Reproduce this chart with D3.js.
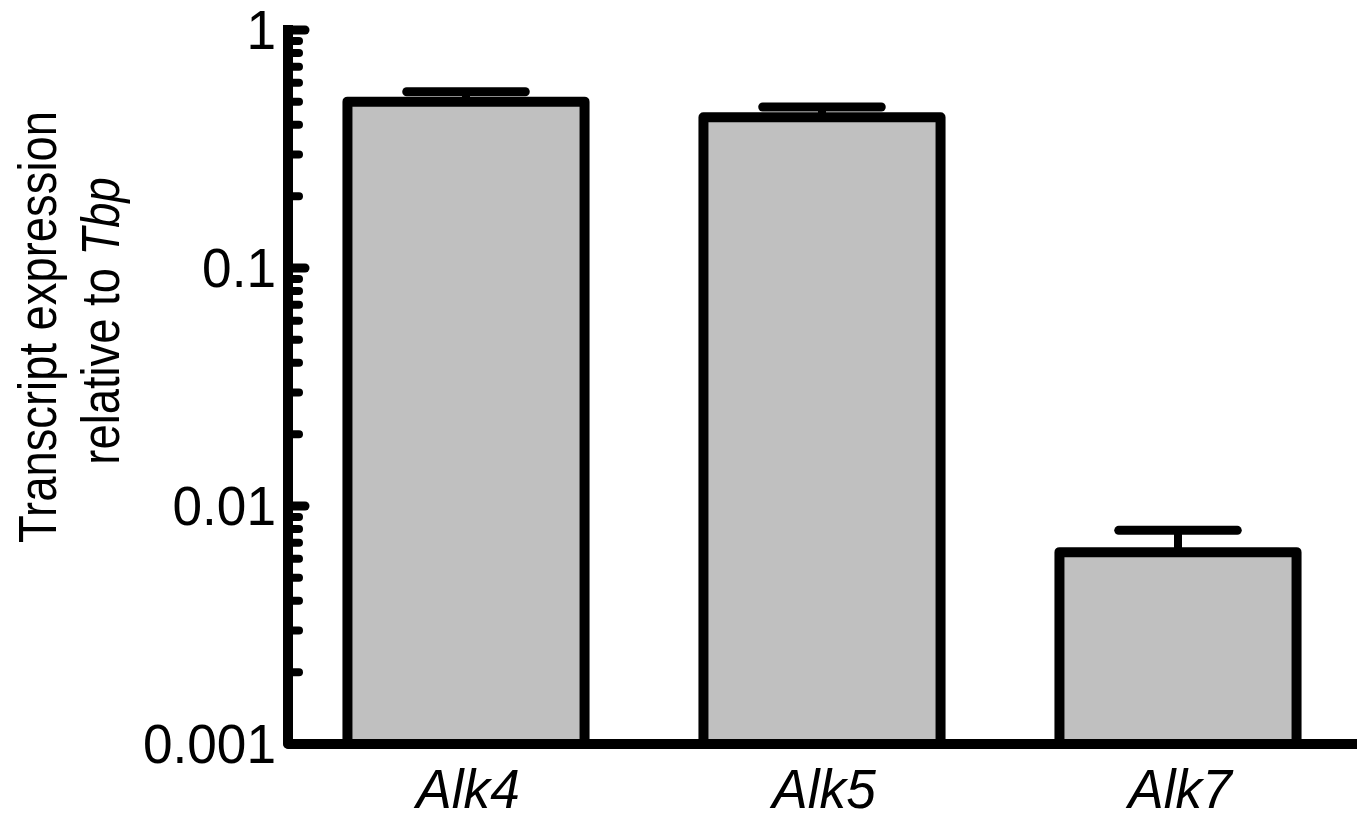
<!DOCTYPE html>
<html>
<head>
<meta charset="utf-8">
<script src="https://cdn.jsdelivr.net/npm/d3@7"></script>
<style>
  html, body { margin: 0; padding: 0; background: #fff; }
  svg { display: block; }
  text { font-family: "Liberation Sans", Arial, Helvetica, sans-serif; fill: #000; }
</style>
</head>
<body>
<svg id="chart" width="1368" height="819"></svg>
<script>
// ---- data ----
const categories = ["Alk4", "Alk5", "Alk7"];
const meanValues = [0.50, 0.43, 0.0064];
const upperErrorValues = [0.55, 0.475, 0.0079];
const yTickValues = [0.001, 0.01, 0.1, 1];
const yTickLabels = ["0.001", "0.01", "0.1", "1"];

// ---- layout ----
const W = 1368, H = 819;
const axisX = 288, axisY = 744, topY = 30, rightX = 1356;

const svg = d3.select("#chart");
svg.append("rect").attr("width", W).attr("height", H).attr("fill", "#fff");

const x = d3.scaleBand().domain(categories).range([axisX, rightX])
  .paddingInner(0.334).paddingOuter(0.167);
const y = d3.scaleLog().domain([0.001, 1]).range([axisY, topY]);

const data = categories.map((c, i) => ({ c, v: meanValues[i], e: upperErrorValues[i] }));

// bars
svg.append("g").selectAll("rect").data(data).join("rect")
  .attr("x", d => x(d.c))
  .attr("y", d => y(d.v))
  .attr("width", x.bandwidth())
  .attr("height", d => axisY - y(d.v))
  .attr("fill", "#c0c0c0")
  .attr("stroke", "#000")
  .attr("stroke-width", 10)
  .attr("stroke-linejoin", "round");

// error bars (upper only)
const eg = svg.append("g");
eg.selectAll("line.stem").data(data).join("line")
  .attr("class", "stem")
  .attr("x1", d => x(d.c) + x.bandwidth() / 2)
  .attr("x2", d => x(d.c) + x.bandwidth() / 2)
  .attr("y1", d => y(d.v))
  .attr("y2", d => y(d.e))
  .attr("stroke", "#000").attr("stroke-width", 8);
eg.selectAll("line.cap").data(data).join("line")
  .attr("class", "cap")
  .attr("x1", d => x(d.c) + x.bandwidth() / 4)
  .attr("x2", d => x(d.c) + x.bandwidth() * 3 / 4)
  .attr("y1", d => y(d.e))
  .attr("y2", d => y(d.e))
  .attr("stroke", "#000").attr("stroke-width", 9).attr("stroke-linecap", "round");

// y ticks (major + minor)
const allTicks = y.ticks();
const isMajor = t => Math.abs(Math.log10(t) - Math.round(Math.log10(t))) < 1e-9;
svg.append("g").selectAll("line").data(allTicks.filter(t => t < 1.0001)).join("line")
  .attr("x1", axisX)
  .attr("x2", t => isMajor(t) ? axisX + 17 : axisX + 11)
  .attr("y1", t => y(t))
  .attr("y2", t => y(t))
  .attr("stroke", "#000")
  .attr("stroke-width", t => isMajor(t) ? 9 : 8)
  .attr("stroke-linecap", "round");

// axis lines
svg.append("path")
  .attr("d", `M${axisX},${topY} L${axisX},${axisY} L${rightX - 4},${axisY}`)
  .attr("fill", "none").attr("stroke", "#000").attr("stroke-width", 10)
  .attr("stroke-linecap", "square").attr("stroke-linejoin", "round");

// y tick labels
svg.append("g").selectAll("text").data(yTickValues).join("text")
  .attr("transform", t => `translate(${axisX - 12},${y(t)}) scale(0.95,1)`)
  .attr("text-anchor", "end")
  .attr("dominant-baseline", "central")
  .attr("font-size", 56)
  .text((t, i) => yTickLabels[i]);

// x labels
svg.append("g").selectAll("text").data(categories).join("text")
  .attr("transform", c => `translate(${x(c) + x.bandwidth() / 2 + 2},808) scale(0.95,1)`)
  .attr("text-anchor", "middle")
  .attr("font-size", 56)
  .attr("font-style", "italic")
  .text(c => c);

// y title
svg.append("text")
  .attr("transform", "translate(56,327) rotate(-90) scale(0.84,1)")
  .attr("text-anchor", "middle")
  .attr("font-size", 54)
  .text("Transcript expression");
const t2 = svg.append("text")
  .attr("transform", "translate(119,321) rotate(-90) scale(0.84,1)")
  .attr("text-anchor", "middle")
  .attr("font-size", 54);
t2.append("tspan").text("relative to ");
t2.append("tspan").attr("font-style", "italic").text("Tbp");
</script>
</body>
</html>
